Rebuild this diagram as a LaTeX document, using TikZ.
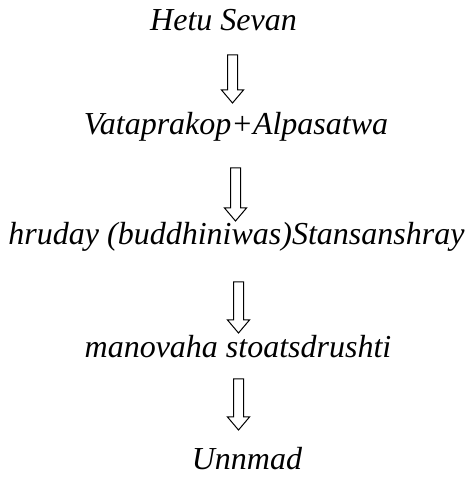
\documentclass[tikz,border=0pt]{standalone}
\usepackage{fontspec}
\setmainfont{Liberation Serif}
\usetikzlibrary{calc}
\begin{document}
\begin{tikzpicture}[x=1pt,y=1pt,
  lbl/.style={anchor=base, inner sep=0pt, font=\fontsize{32}{38}\selectfont\itshape},
  blockarr/.style={draw=black, line width=1pt, line join=miter, to path={
    ($(\tikztostart)+(-5,0)$) -- ($(\tikztotarget)+(-5,13)$) -- ($(\tikztotarget)+(-11,13)$) -- (\tikztotarget)
    -- ($(\tikztotarget)+(11,13)$) -- ($(\tikztotarget)+(5,13)$) -- ($(\tikztostart)+(5,0)$) -- cycle}}]
\useasboundingbox (0,0) rectangle (473,477);
\node[lbl] (t1) at (223.5,446) {Hetu Sevan};
\node[lbl] (t2) at (236,342) {Vataprakop+Alpasatwa};
\node[lbl] (t3) at (236.5,232) {hruday (buddhiniwas)Stansanshray};
\node[lbl] (t4) at (238,119) {manovaha stoatsdrushti};
\node[lbl] (t5) at (247,8) {Unnmad};
\coordinate (s1) at (232.5,422); \coordinate (e1) at (232.5,374);
\coordinate (s2) at (235.5,309); \coordinate (e2) at (235.5,256);
\coordinate (s3) at (238.5,195); \coordinate (e3) at (238.5,144);
\coordinate (s4) at (238.5,98);  \coordinate (e4) at (238.5,47);
\draw[blockarr] (s1) to (e1);
\draw[blockarr] (s2) to (e2);
\draw[blockarr] (s3) to (e3);
\draw[blockarr] (s4) to (e4);
\end{tikzpicture}
\end{document}
